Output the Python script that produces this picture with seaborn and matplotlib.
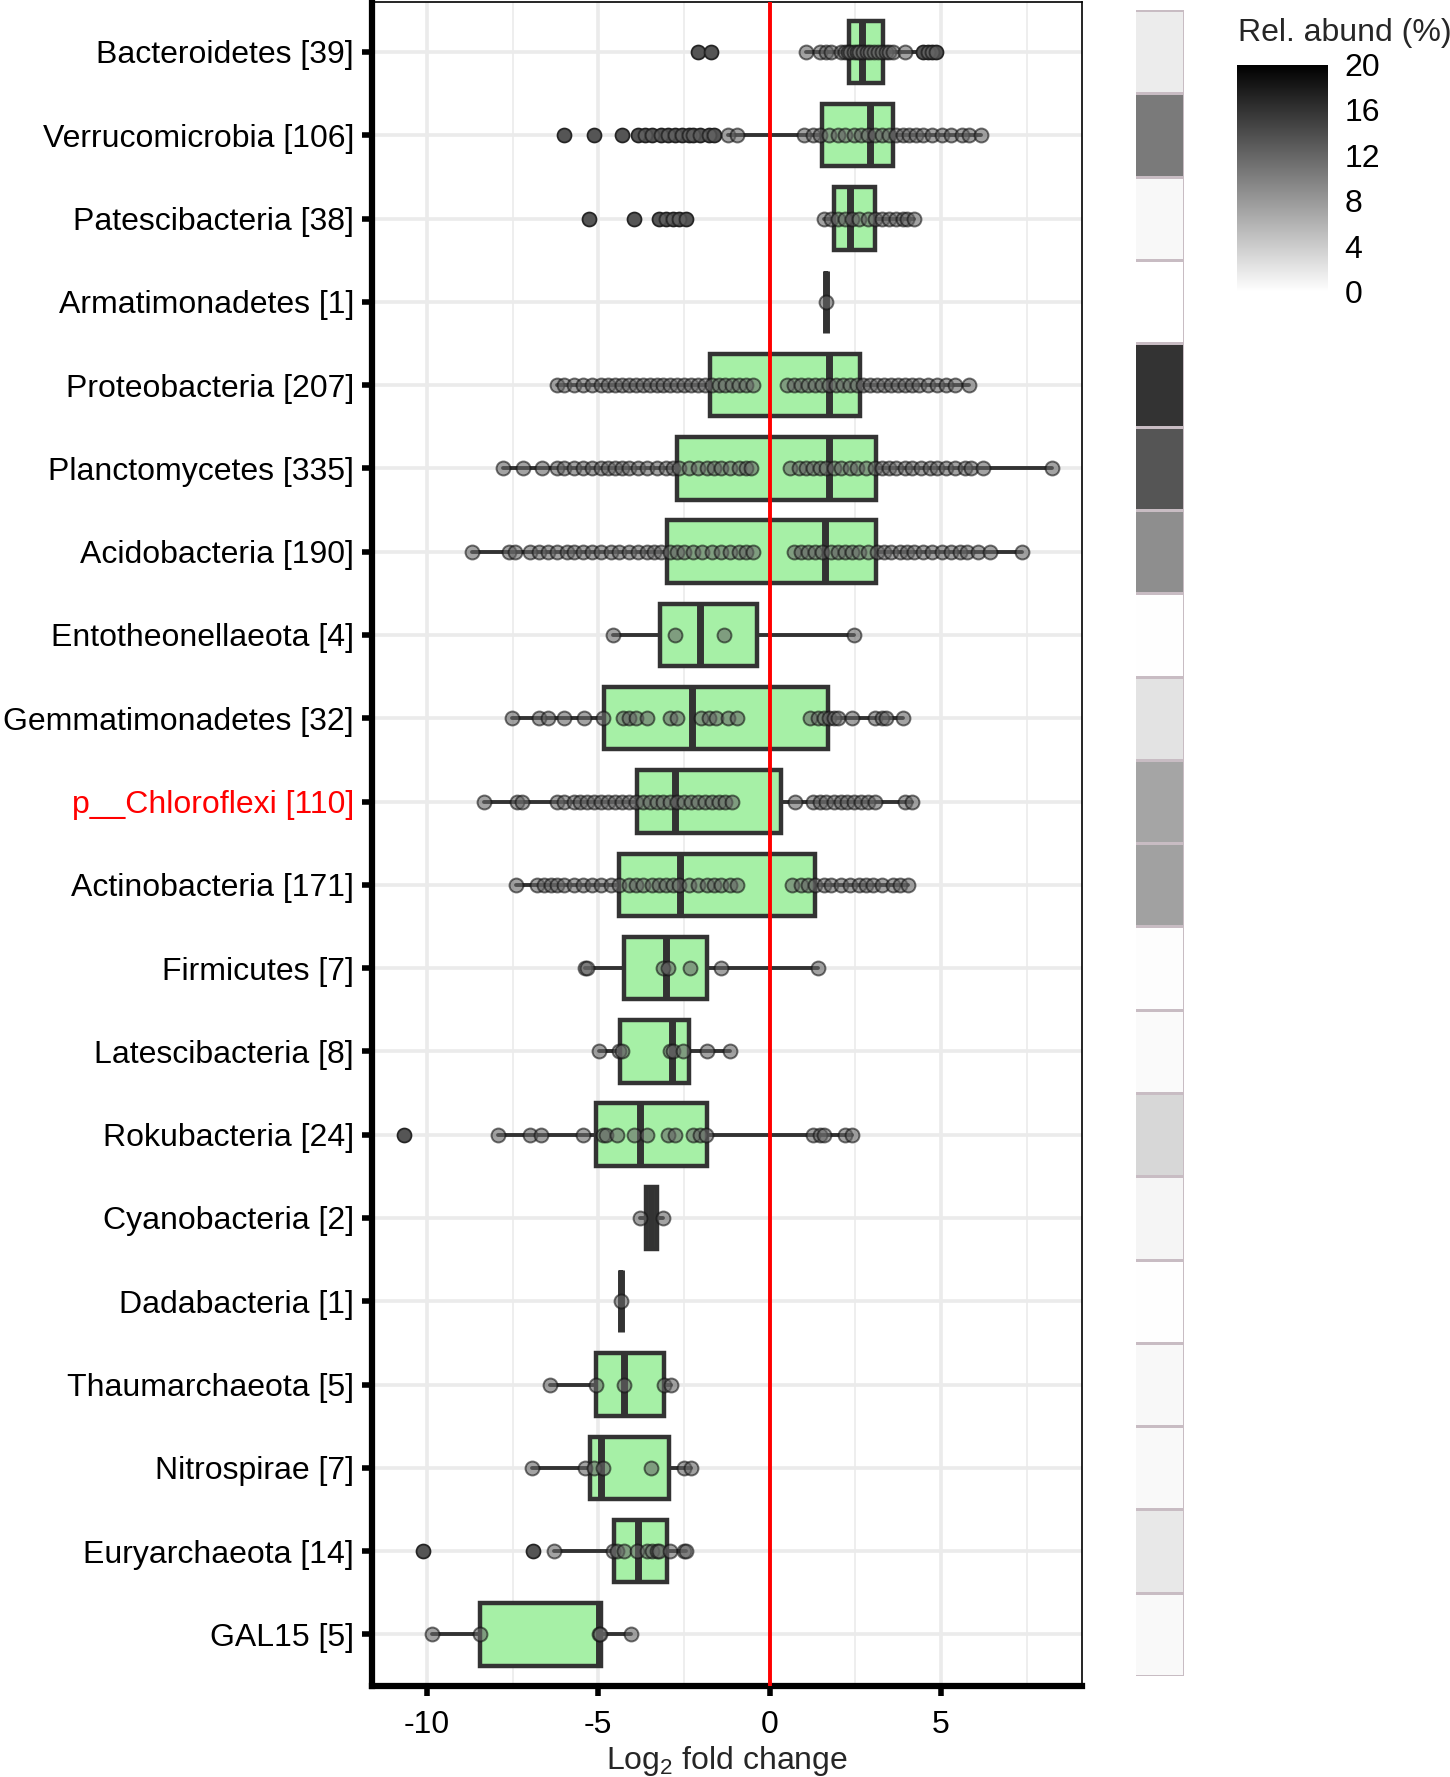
import numpy as np
import pandas as pd
import matplotlib
matplotlib.use("Agg")
import matplotlib.pyplot as plt
import seaborn as sns
from matplotlib.colors import LinearSegmentedColormap

# phyla, top to bottom, with number of ASVs
phyla = ["Bacteroidetes", "Verrucomicrobia", "Patescibacteria", "Armatimonadetes",
         "Proteobacteria", "Planctomycetes", "Acidobacteria", "Entotheonellaeota",
         "Gemmatimonadetes", "p__Chloroflexi", "Actinobacteria", "Firmicutes",
         "Latescibacteria", "Rokubacteria", "Cyanobacteria", "Dadabacteria",
         "Thaumarchaeota", "Nitrospirae", "Euryarchaeota", "GAL15"]
counts = [39, 106, 38, 1, 207, 335, 190, 4, 32, 110, 171, 7, 8, 24, 2, 1, 5, 7, 14, 5]

# box statistics (log2 fold change)
box_q1 = [2.31, 1.53, 1.87, 1.66, -1.73, -2.70, -2.99, -3.21, -4.82, -3.88,
          -4.40, -4.24, -4.36, -5.06, -3.61, -4.34, -5.07, -5.23, -4.54, -8.44]
box_med = [2.71, 2.94, 2.34, 1.66, 1.73, 1.73, 1.62, -2.03, -2.27, -2.77,
           -2.60, -3.03, -2.86, -3.77, -3.45, -4.34, -4.24, -4.91, -3.84, -4.98]
box_q3 = [3.30, 3.61, 3.07, 1.66, 2.64, 3.10, 3.10, -0.38, 1.70, 0.32,
          1.33, -1.83, -2.34, -1.83, -3.28, -4.34, -3.09, -2.95, -2.99, -4.91]
whisk_lo = [1.06, -1.22, 1.60, 1.66, -6.19, -7.77, -8.67, -4.58, -7.53, -8.34,
            -7.40, -5.38, -4.98, -7.93, -3.78, -4.34, -6.42, -6.93, -6.30, -9.84]
whisk_hi = [4.40, 6.16, 4.21, 1.66, 5.83, 8.24, 7.37, 2.47, 3.88, 4.15,
            4.05, 1.40, -1.15, 2.40, -3.11, -4.34, -2.87, -2.30, -2.43, -4.04]

# individual ASVs (overlapping ones approximated)
pts_bacteroidetes = [-2.09, -1.72, 1.06, 1.46, 1.66, 1.80, 2.07, 2.20, 2.28, 2.34, 2.45,
                     2.54, 2.62, 2.74, 2.85, 2.94, 3.05, 3.15, 3.28, 3.40, 3.48, 3.61,
                     3.95, 4.48, 4.62, 4.75, 4.86]
pts_verrucomicrobia = [-5.99, -5.11, -4.31, -3.84, -3.64, -3.44, -3.17, -2.97, -2.77,
                       -2.56, -2.36, -2.23, -2.03, -1.76, -1.62, -1.22, -0.95, 0.99, 1.26,
                       1.46, 1.73, 2.00, 2.20, 2.47, 2.67, 2.87, 3.07, 3.28, 3.48, 3.68,
                       3.88, 4.08, 4.28, 4.48, 4.75, 5.02, 5.29, 5.62, 5.83, 6.16]
pts_patescibacteria = [-5.26, -3.95, -3.23, -3.03, -2.83, -2.63, -2.43, 1.60, 1.80, 2.00,
                       2.20, 2.40, 2.60, 2.87, 3.07, 3.28, 3.48, 3.68, 3.88, 4.01, 4.21]
pts_armatimonadetes = [1.66]
pts_proteobacteria = [-6.19, -5.99, -5.72, -5.45, -5.18, -4.91, -4.71, -4.51, -4.31, -4.11,
                      -3.91, -3.70, -3.50, -3.30, -3.10, -2.90, -2.70, -2.50, -2.30, -2.09,
                      -1.89, -1.69, -1.49, -1.29, -1.09, -0.89, -0.68, -0.48, 0.52, 0.72,
                      0.93, 1.13, 1.33, 1.53, 1.73, 1.93, 2.13, 2.34, 2.54, 2.74, 2.94,
                      3.14, 3.34, 3.54, 3.74, 3.95, 4.15, 4.35, 4.62, 4.89, 5.15, 5.42, 5.83]
pts_planctomycetes = [-7.77, -7.19, -6.63, -6.19, -5.99, -5.72, -5.45, -5.18, -4.91, -4.71,
                      -4.51, -4.31, -4.11, -3.84, -3.57, -3.30, -3.03, -2.83, -2.63, -2.36,
                      -2.09, -1.83, -1.62, -1.42, -1.15, -0.89, -0.68, -0.55, 0.59, 0.86,
                      1.06, 1.26, 1.46, 1.66, 1.87, 2.07, 2.34, 2.54, 2.81, 3.07, 3.28,
                      3.48, 3.68, 3.95, 4.15, 4.42, 4.68, 4.89, 5.15, 5.42, 5.69, 5.89,
                      6.23, 8.24]
pts_acidobacteria = [-8.67, -7.60, -7.44, -6.99, -6.72, -6.46, -6.19, -5.92, -5.72, -5.45,
                     -5.18, -4.91, -4.64, -4.38, -4.11, -3.84, -3.57, -3.37, -3.17, -2.90,
                     -2.70, -2.50, -2.23, -1.96, -1.69, -1.42, -1.15, -0.89, -0.68, -0.48,
                     0.72, 0.93, 1.13, 1.33, 1.53, 1.80, 2.00, 2.20, 2.40, 2.60, 2.87,
                     3.14, 3.34, 3.54, 3.81, 4.01, 4.21, 4.48, 4.75, 5.02, 5.29, 5.56,
                     5.76, 6.09, 6.43, 7.37]
pts_entotheonellaeota = [-4.58, -2.77, -1.33, 2.47]
pts_gemmatimonadetes = [-7.53, -6.72, -6.46, -5.99, -5.42, -4.85, -4.27, -4.11, -3.91, -3.57,
                        -2.90, -2.70, -1.99, -1.76, -1.56, -1.22, -0.95, 1.19, 1.40, 1.60,
                        1.73, 1.87, 2.00, 2.40, 3.07, 3.28, 3.41, 3.88]
pts_chloroflexi = [-8.34, -7.36, -7.22, -6.19, -5.99, -5.72, -5.52, -5.32, -5.11, -4.91,
                   -4.71, -4.51, -4.31, -4.11, -3.91, -3.70, -3.50, -3.30, -3.10, -2.90,
                   -2.70, -2.50, -2.30, -2.09, -1.89, -1.69, -1.49, -1.29, -1.09, 0.75,
                   1.26, 1.46, 1.66, 1.87, 2.07, 2.27, 2.47, 2.67, 2.87, 3.07, 3.95, 4.15]
pts_actinobacteria = [-7.40, -6.79, -6.59, -6.39, -6.19, -5.99, -5.72, -5.45, -5.18, -4.91,
                      -4.64, -4.38, -4.11, -3.91, -3.70, -3.44, -3.23, -3.03, -2.83, -2.63,
                      -2.36, -2.09, -1.83, -1.62, -1.42, -1.15, -0.95, 0.66, 0.93, 1.13,
                      1.33, 1.60, 1.80, 2.07, 2.34, 2.60, 2.81, 3.01, 3.28, 3.61, 3.81, 4.05]
pts_firmicutes = [-5.38, -5.32, -3.10, -2.97, -2.32, -1.42, 1.40]
pts_latescibacteria = [-4.98, -4.40, -4.31, -2.90, -2.83, -2.52, -1.83, -1.15]
pts_rokubacteria = [-10.66, -7.93, -6.99, -6.66, -5.45, -4.85, -4.78, -4.44, -3.97, -3.57,
                    -2.97, -2.77, -2.23, -2.03, -1.85, 1.26, 1.46, 1.60, 2.20, 2.40]
pts_cyanobacteria = [-3.78, -3.11]
pts_dadabacteria = [-4.34]
pts_thaumarchaeota = [-6.42, -5.07, -4.24, -3.09, -2.87]
pts_nitrospirae = [-6.93, -5.38, -5.11, -4.85, -3.46, -2.50, -2.30]
pts_euryarchaeota = [-10.11, -6.90, -6.30, -4.58, -4.44, -4.24, -3.87, -3.57, -3.44, -3.30,
                     -3.23, -2.90, -2.50, -2.43]
pts_gal15 = [-9.84, -8.44, -4.98, -4.95, -4.04]

# relative abundance (%) for the side column
rel_abund = [1.5, 10.4, 0.55, 0.0, 16.0, 13.3, 8.9, 0.08, 2.2, 7.1,
             7.4, 0.16, 0.4, 3.2, 0.8, 0.08, 0.55, 0.47, 1.8, 0.47]

points = [pts_bacteroidetes, pts_verrucomicrobia, pts_patescibacteria, pts_armatimonadetes,
          pts_proteobacteria, pts_planctomycetes, pts_acidobacteria, pts_entotheonellaeota,
          pts_gemmatimonadetes, pts_chloroflexi, pts_actinobacteria, pts_firmicutes,
          pts_latescibacteria, pts_rokubacteria, pts_cyanobacteria, pts_dadabacteria,
          pts_thaumarchaeota, pts_nitrospirae, pts_euryarchaeota, pts_gal15]

labels = [f"{p} [{c}]" for p, c in zip(phyla, counts)]

df = pd.DataFrame({
    "label": [lab for lab, pts in zip(labels, points) for _ in pts],
    "lfc": [v for pts in points for v in pts],
})

stats = []
for i, pts in enumerate(points):
    arr = np.array(pts)
    fl = arr[(arr < whisk_lo[i] - 1e-9) | (arr > whisk_hi[i] + 1e-9)]
    stats.append(dict(q1=box_q1[i], med=box_med[i], q3=box_q3[i],
                      whislo=whisk_lo[i], whishi=whisk_hi[i], fliers=fl))

sns.set_theme(style="white")
plt.rcParams["font.family"] = ["Liberation Sans", "DejaVu Sans"]
plt.rcParams["axes.unicode_minus"] = False
plt.rcParams["mathtext.fontset"] = "custom"
plt.rcParams["mathtext.rm"] = "Liberation Sans"
plt.rcParams["mathtext.it"] = "Liberation Sans:italic"
plt.rcParams["mathtext.bf"] = "Liberation Sans:bold"

fig = plt.figure(figsize=(14.5, 17.77), dpi=100)
ax = fig.add_axes([0.2566, 0.0512, 0.4897, 0.9477])

line_col = "#333333"
ax.bxp(stats, positions=np.arange(len(phyla)), widths=0.75, orientation="horizontal",
       patch_artist=True, showcaps=False, manage_ticks=False, zorder=2,
       boxprops=dict(facecolor="#a6f0a6", edgecolor=line_col, linewidth=3.2),
       medianprops=dict(color=line_col, linewidth=5.0, solid_capstyle="butt"),
       whiskerprops=dict(color=line_col, linewidth=2.8),
       flierprops=dict(marker="o", markerfacecolor="#3c3c3c", markeredgecolor=line_col,
                       markersize=10, linestyle="none"))

ax.axvline(0, color="red", lw=2.8, zorder=3)

sns.stripplot(data=df, x="lfc", y="label", order=labels, orient="h", jitter=False,
              size=10, color="#666666", alpha=0.6, edgecolor="#111111", linewidth=1.4,
              zorder=4, ax=ax)

ax.set_xlim(-11.6, 9.12)
ax.set_ylim(19.62, -0.6)
ax.set_xticks([-10, -5, 0, 5])
ax.set_xticks([-7.5, -2.5, 2.5, 7.5], minor=True)
ax.set_yticks(np.arange(len(labels)))
ax.set_yticklabels(labels)
ax.grid(which="major", color="#ebebeb", lw=2.6)
ax.grid(which="minor", axis="x", color="#ebebeb", lw=1.2)
ax.set_axisbelow(True)
ax.tick_params(which="major", axis="both", length=7, width=4, color="black",
               labelcolor="black", labelsize=23, bottom=True, left=True)
ax.tick_params(axis="y", pad=6)
ax.tick_params(axis="x", pad=10)
ax.tick_params(which="minor", length=0)
ax.get_yticklabels()[phyla.index("p__Chloroflexi")].set_color("red")
ax.set_ylabel("")
ax.set_xlabel("Log$_\\mathregular{2}$ fold change", fontsize=23, labelpad=3)

for side in ["left", "bottom"]:
    ax.spines[side].set_linewidth(4.5)
    ax.spines[side].set_color("black")
for side in ["top", "right"]:
    ax.spines[side].set_linewidth(1.2)
    ax.spines[side].set_color("black")
    ax.spines[side].set_visible(True)

# relative abundance column + colour bar
hax = fig.add_axes([0.7834, 0.0568, 0.0331, 0.9375])
cax = fig.add_axes([0.8531, 0.8357, 0.0628, 0.128])
cmap = LinearSegmentedColormap.from_list("wb", ["white", "black"])
sns.heatmap(pd.DataFrame({"abund": rel_abund}, index=labels), ax=hax, cmap=cmap,
            vmin=0, vmax=20, cbar_ax=cax, linewidths=2, linecolor="#c8bcc3",
            cbar_kws={"ticks": [0, 4, 8, 12, 16, 20]})
hax.set_xlim(0.04, 1)
hax.axis("off")

cbar = hax.collections[0].colorbar
cbar.outline.set_visible(False)
cax.yaxis.set_ticks_position("both")
cax.tick_params(which="major", direction="in", length=13, width=1.3, colors="white",
                labelcolor="black", labelsize=23, pad=12, left=True, right=True,
                labelleft=False, labelright=True)
cax.tick_params(which="minor", length=0)
fig.text(0.8538, 0.9814, "Rel. abund (%)", ha="left", va="center", fontsize=23)

fig.savefig("out.png", dpi=100)
